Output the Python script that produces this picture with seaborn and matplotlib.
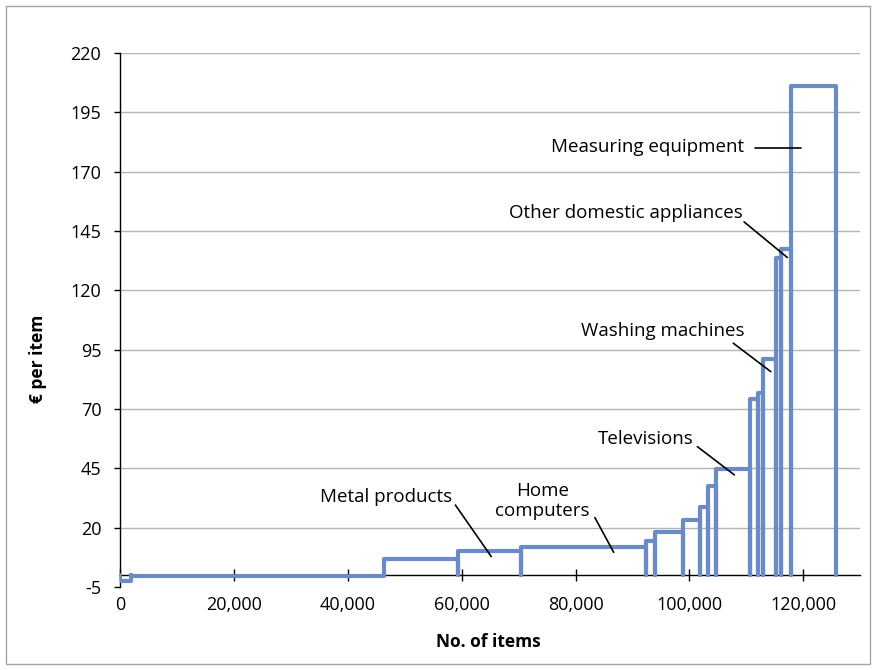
import numpy as np
import pandas as pd
import matplotlib
matplotlib.use('Agg')
import matplotlib.pyplot as plt
import seaborn as sns
from matplotlib.patches import Rectangle

# bar edges (no. of items) and cost per item for each step
edges = [0, 1900, 46400, 59400, 70500, 92300, 94000, 98800, 101800, 103300,
         104600, 110700, 112100, 113000, 115200, 116000, 117900, 125700]
costs = [-2.3, -0.6, 6.6, 10.3, 12.0, 14.4, 18.2, 23.0, 28.8, 37.7,
         44.7, 74.3, 76.6, 90.9, 133.5, 137.5, 206.0]

y_ticks = list(range(-5, 221, 25))
x_ticks = list(range(0, 120001, 20000))

# labels: text, text position, leader line start, leader line end
labels = ['Metal products', 'Home\ncomputers', 'Televisions',
          'Washing machines', 'Other domestic appliances', 'Measuring equipment']
label_pos = [(46800, 32.9), (74200, 31.2), (92300, 57.3),
             (95300, 102.8), (88900, 152.6), (92600, 180.4)]
line_start = [(58900, 29.5), (83400, 24.2), (101400, 54.1),
              (107700, 97.7), (109600, 148.8), (111600, 180.1)]
line_end = [(65200, 7.8), (86700, 9.6), (107900, 42.2),
            (114300, 85.7), (117200, 133.8), (119600, 180.1)]

# build the outline path of the cost curve
xs, ys = [], []
for i, h in enumerate(costs):
    xs += [edges[i], edges[i], edges[i + 1], edges[i + 1]]
    ys += [0, h, h, 0]
curve = pd.DataFrame({'items': xs, 'cost': ys})

sns.set_style('white')
plt.rcParams['font.family'] = ['Open Sans', 'DejaVu Sans']
plt.rcParams['axes.unicode_minus'] = False
plt.rcParams['text.color'] = 'black'
plt.rcParams['xtick.labelcolor'] = 'black'
plt.rcParams['ytick.labelcolor'] = 'black'

fig = plt.figure(figsize=(8.76, 6.70), dpi=100)
ax = fig.add_axes([0.137, 0.124, 0.845, 0.797])

sns.lineplot(data=curve, x='items', y='cost', sort=False, estimator=None,
             color='#6a8bc6', linewidth=3.0, ax=ax, zorder=3)

ax.set_xlim(0, 130000)
ax.set_ylim(-5, 220)
ax.set_yticks(y_ticks)
ax.set_xticks(x_ticks)
ax.set_xticklabels([f'{v:,}' for v in x_ticks])

ax.yaxis.grid(True, color='#b5b5b5', linewidth=1)
ax.get_ygridlines()[0].set_visible(False)
ax.set_axisbelow(True)

for s in ['top', 'right']:
    ax.spines[s].set_visible(False)
ax.spines['bottom'].set_position(('data', 0))
ax.spines['bottom'].set_color('black')
ax.spines['left'].set_color('black')
ax.spines['bottom'].set_linewidth(1)
ax.spines['left'].set_linewidth(1)

ax.tick_params(axis='y', direction='out', length=4.5, width=1, pad=9,
               labelsize=13, color='black', labelcolor='black', left=True)
ax.tick_params(axis='x', direction='inout', length=8, width=1, pad=11,
               labelsize=13, color='black', labelcolor='black', bottom=True)
ax.set_xlabel('')
ax.set_ylabel('')

fig.text(0.043, 0.465, '€ per item', rotation=90, ha='center', va='center',
         fontsize=12.5, fontweight='bold', color='black')
fig.text(0.557, 0.042, 'No. of items', ha='center', va='center',
         fontsize=12.5, fontweight='bold', color='black')

for txt, p, a, b in zip(labels, label_pos, line_start, line_end):
    ax.text(p[0], p[1], txt, ha='center', va='center', fontsize=13.5,
            linespacing=1.15, color='black')
    ax.plot([a[0], b[0]], [a[1], b[1]], color='black', linewidth=1.2, zorder=4)

fig.patches.append(Rectangle((0.007, 0.009), 0.986, 0.982, transform=fig.transFigure,
                             fill=False, edgecolor='#a6a6a6', linewidth=1))

fig.savefig('out.png', dpi=100)
